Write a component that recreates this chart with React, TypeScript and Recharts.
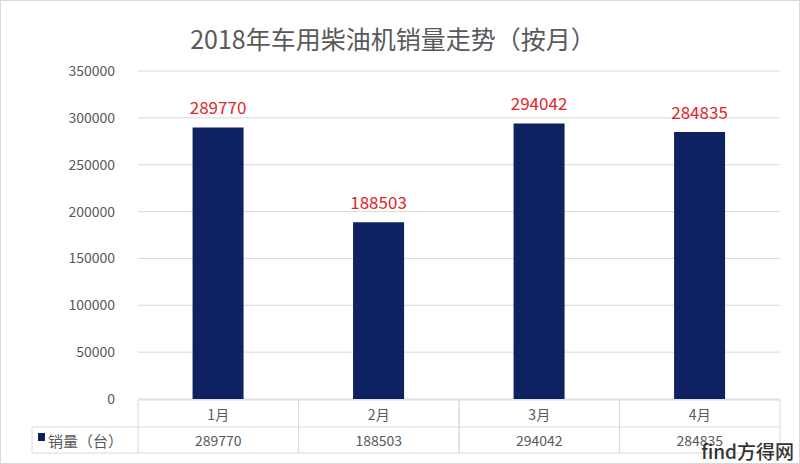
import { BarChart, Bar, XAxis, YAxis, CartesianGrid, LabelList } from "recharts";

const months = ["1月", "2月", "3月", "4月"];
const sales = [289770, 188503, 294042, 284835];
const yTicks = [0, 50000, 100000, 150000, 200000, 250000, 300000, 350000];

const data = months.map((m, i) => ({ month: m, sales: sales[i] }));

const FONT = '"Noto Sans CJK SC", "Noto Sans", sans-serif';
const GREY = "#595959";
const LINE = "#d9d9d9";
const NAVY = "#0e2161";
const COL = (780 - 138) / 4;

// x axis drawn as a data table: header row = month, second row = value
const TableTick = (props: any) => {
  const { x, y, payload, index } = props;
  const top = y + 1;
  const mid = top + 27;
  const bottom = mid + 26;
  const left = x - COL / 2;
  const right = x + COL / 2;
  return (
    <g>
      <line x1={left} x2={right} y1={top} y2={top} stroke={LINE} />
      <line x1={left} x2={right} y1={mid} y2={mid} stroke={LINE} />
      <line x1={left} x2={right} y1={bottom} y2={bottom} stroke={LINE} />
      <line x1={left} x2={left} y1={top} y2={bottom} stroke={LINE} />
      <line x1={right} x2={right} y1={top} y2={bottom} stroke={LINE} />
      <text x={x} y={top + 14} textAnchor="middle" dominantBaseline="central" fontSize={14} fill={GREY} fontFamily={FONT}>
        {payload.value}
      </text>
      <text x={x} y={mid + 13} textAnchor="middle" dominantBaseline="central" fontSize={14} fill={GREY} fontFamily={FONT}>
        {sales[index]}
      </text>
      {index === 0 && (
        <g>
          <line x1={32} x2={left} y1={mid} y2={mid} stroke={LINE} />
          <line x1={32} x2={left} y1={bottom} y2={bottom} stroke={LINE} />
          <line x1={32} x2={32} y1={mid} y2={bottom} stroke={LINE} />
          <rect x={38} y={mid + 6} width={7} height={8} fill={NAVY} />
          <text x={48} y={mid + 13} dominantBaseline="central" fontSize={15} fill={GREY} fontFamily={FONT}>
            销量（台）
          </text>
        </g>
      )}
    </g>
  );
};

export default function App() {
  return (
    <div style={{ position: "relative", width: 800, height: 464, background: "#fff" }}>
      <style>{"body{margin:0}"}</style>
      <div
        style={{
          position: "absolute",
          left: 0,
          width: 786,
          textAlign: "center",
          top: 21,
          fontFamily: FONT,
          fontSize: 25,
          color: GREY,
          lineHeight: "34px",
        }}
      >
        2018年车用柴油机销量走势（按月）
      </div>
      <BarChart
        width={800}
        height={464}
        data={data}
        margin={{ top: 71, right: 20, left: 0, bottom: 0 }}
        barCategoryGap="34%"
      >
        <CartesianGrid vertical={false} stroke={LINE} />
        <YAxis
          type="number"
          domain={[0, 350000]}
          ticks={yTicks}
          width={138}
          axisLine={false}
          tickLine={false}
          tickSize={0}
          tickMargin={23}
          tick={{ fontSize: 14, fill: GREY, fontFamily: FONT }}
        />
        <XAxis
          dataKey="month"
          height={65}
          axisLine={false}
          tickLine={false}
          tickSize={0}
          tickMargin={0}
          interval={0}
          tick={<TableTick />}
        />
        <Bar dataKey="sales" fill={NAVY} isAnimationActive={false}>
          <LabelList dataKey="sales" position="top" offset={13} fill="#e0262b" fontSize={17} fontFamily={FONT} />
        </Bar>
      </BarChart>
      <div
        style={{
          position: "absolute",
          right: 6,
          bottom: 0,
          fontFamily: FONT,
          fontSize: 19,
          color: "#333",
          fontWeight: 500,
        }}
      >
        find方得网
      </div>
      <div
        style={{
          position: "absolute",
          left: 0,
          top: 0,
          width: 798,
          height: 462,
          border: "1px solid #d9d9d9",
          pointerEvents: "none",
        }}
      />
    </div>
  );
}
